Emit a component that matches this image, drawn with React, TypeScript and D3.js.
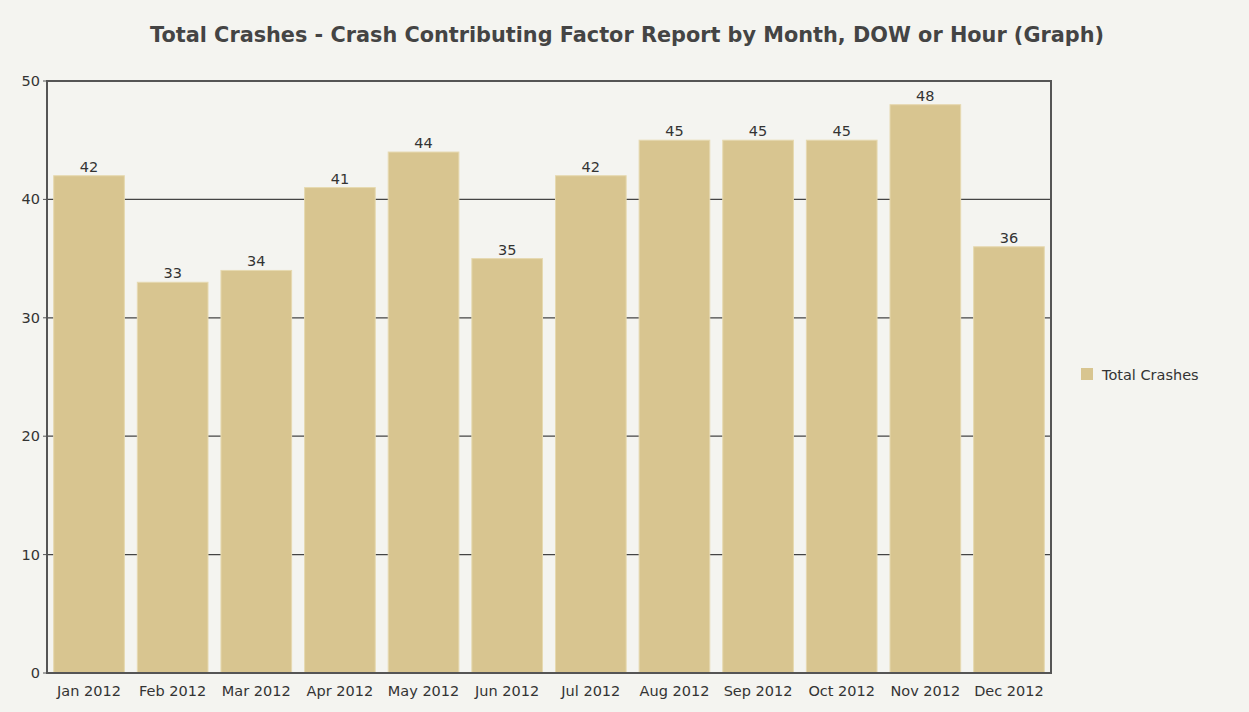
import React from "react";
import * as d3 from "d3";

const months = [
  "Jan 2012", "Feb 2012", "Mar 2012", "Apr 2012", "May 2012", "Jun 2012",
  "Jul 2012", "Aug 2012", "Sep 2012", "Oct 2012", "Nov 2012", "Dec 2012",
];
const totalCrashes = [42, 33, 34, 41, 44, 35, 42, 45, 45, 45, 48, 36];
const yTicks = [0, 10, 20, 30, 40, 50];
const seriesName = "Total Crashes";
const title = "Total Crashes - Crash Contributing Factor Report by Month, DOW or Hour (Graph)";

const W = 1249;
const H = 712;
const plot = { left: 47, top: 81, right: 1051, bottom: 673 };
const font = "Tahoma, 'DejaVu Sans', Verdana, sans-serif";
const fs = 14.5;

export default function App() {
  const x = d3
    .scaleBand<string>()
    .domain(months)
    .range([plot.left, plot.right])
    .paddingInner(0.155)
    .paddingOuter(0.08);
  const y = d3.scaleLinear().domain([0, 50]).range([plot.bottom, plot.top]);

  return (
    <svg
      width={W}
      height={H}
      style={{ position: "absolute", left: 0, top: 0, background: "#f4f4f0" }}
    >
      <rect width={W} height={H} fill="#f4f4f0" />
      <text
        x={627}
        y={42}
        textAnchor="middle"
        fontFamily={font}
        fontWeight="bold"
        fontSize={20.8}
        fill="#444"
      >
        {title}
      </text>

      {yTicks.map((t) => (
        <g key={t}>
          {t > 0 && t < 50 && (
            <line x1={plot.left} x2={plot.right} y1={y(t)} y2={y(t)} stroke="#444" strokeWidth={1.2} />
          )}
          <line x1={plot.left - 4} x2={plot.left} y1={y(t)} y2={y(t)} stroke="#555" />
          <text
            x={plot.left - 7}
            y={y(t) + 5}
            textAnchor="end"
            fontFamily={font}
            fontSize={fs}
            fill="#333"
          >
            {t}
          </text>
        </g>
      ))}

      {months.map((m, i) => (
        <g key={m}>
          <rect
            x={x(m)!}
            y={y(totalCrashes[i])}
            width={x.bandwidth()}
            height={plot.bottom - y(totalCrashes[i])}
            fill="#d8c590"
            stroke="#e6d9b0"
            strokeWidth={1}
          />
          <text
            x={x(m)! + x.bandwidth() / 2}
            y={y(totalCrashes[i]) - 4}
            textAnchor="middle"
            fontFamily={font}
            fontSize={fs}
            fill="#333"
          >
            {totalCrashes[i]}
          </text>
          <text
            x={x(m)! + x.bandwidth() / 2}
            y={696}
            textAnchor="middle"
            fontFamily={font}
            fontSize={fs}
            fill="#333"
          >
            {m}
          </text>
        </g>
      ))}

      <rect
        x={plot.left}
        y={plot.top}
        width={plot.right - plot.left}
        height={plot.bottom - plot.top}
        fill="none"
        stroke="#555"
        strokeWidth={2}
      />

      <rect x={1081} y={368} width={12} height={12} fill="#d8c590" />
      <text x={1102} y={380} fontFamily={font} fontSize={fs} fill="#333">
        {seriesName}
      </text>
    </svg>
  );
}
